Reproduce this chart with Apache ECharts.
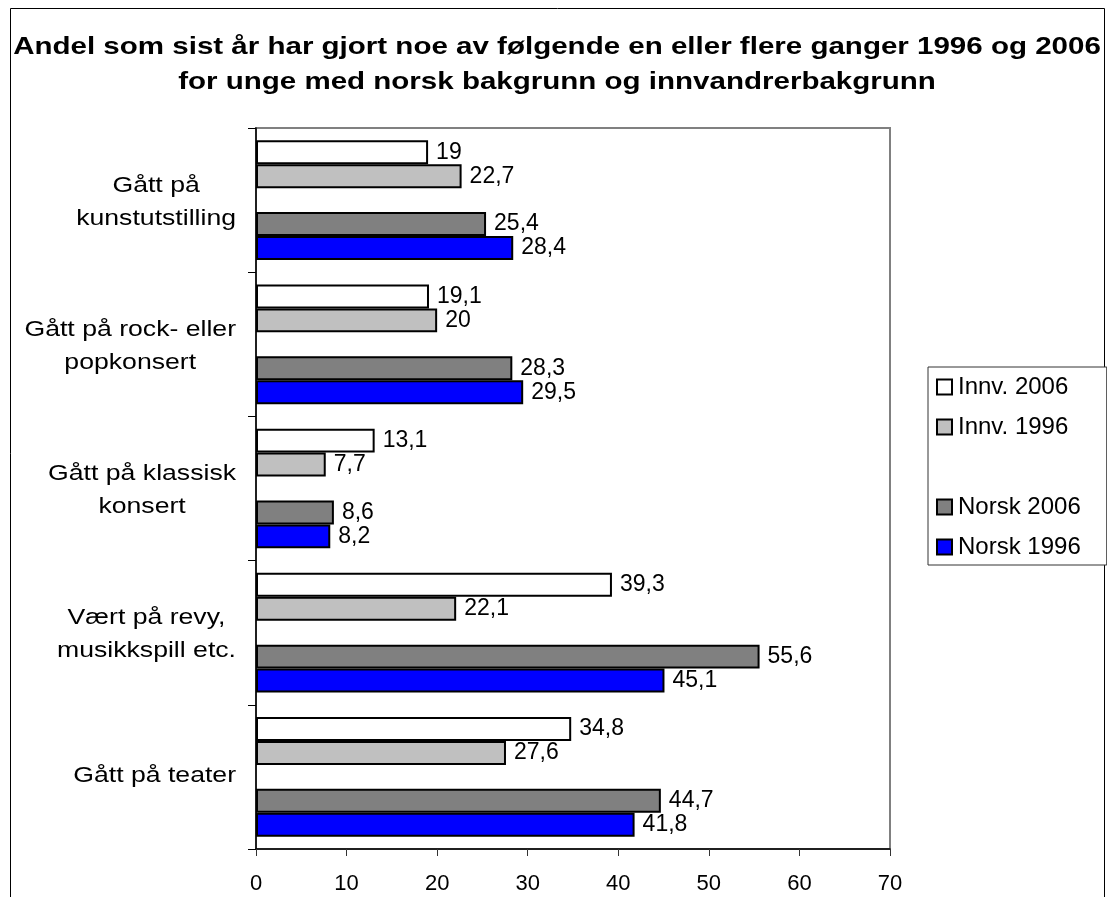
<!DOCTYPE html>
<html>
<head>
<meta charset="utf-8">
<script src="https://cdn.jsdelivr.net/npm/echarts@6/dist/echarts.min.js"></script>
<style>
  html, body { margin: 0; padding: 0; background: #fff; }
  #chart { width: 1107px; height: 897px; }
</style>
</head>
<body>
<div id="chart"></div>
<script>
// Activities (top to bottom)
const categories = [
  'Gått på\nkunstutstilling',
  'Gått på rock- eller\npopkonsert',
  'Gått på klassisk\nkonsert',
  'Vært på revy,\nmusikkspill etc.',
  'Gått på teater'
];

// Share (%) per group and year
const innv2006 = [19, 19.1, 13.1, 39.3, 34.8];
const innv1996 = [22.7, 20, 7.7, 22.1, 27.6];
const norsk2006 = [25.4, 28.3, 8.6, 55.6, 44.7];
const norsk1996 = [28.4, 29.5, 8.2, 45.1, 41.8];

const titleLines = [
  'Andel som sist år har gjort noe av følgende en eller flere ganger 1996 og 2006',
  'for unge med norsk bakgrunn og innvandrerbakgrunn'
];

const xMin = 0, xMax = 70, xStep = 10;

const FONT = "'Liberation Sans', Arial, Helvetica, sans-serif";

const chart = echarts.init(document.getElementById('chart'), null, { renderer: 'canvas' });

const fmt = v => String(v).replace('.', ',');

function barSeries(name, data, color) {
  return {
    name: name,
    type: 'bar',
    data: data,
    barGap: '0%',
    barCategoryGap: '17%',
    itemStyle: { color: color, borderColor: '#000', borderWidth: 2 },
    label: {
      show: true,
      position: 'right',
      distance: 8,
      color: '#000',
      fontFamily: FONT,
      fontSize: 23,
      formatter: p => fmt(p.value)
    },
    emphasis: { disabled: true },
    animation: false
  };
}

// Category names drawn next to the axis, widened like the rest of the lettering
function renderCategoryLabel(params, api) {
  const idx = api.value(1);
  const pt = api.coord([0, idx]);
  const lines = categories[idx].split('\n');
  return {
    type: 'text',
    x: pt[0] - 20,
    y: pt[1] + (lines.length > 1 ? 2 : -1),
    scaleX: 1.21,
    silent: true,
    style: {
      text: lines.map(l => '{c|' + l + '}').join('\n'),
      align: 'right',
      verticalAlign: 'middle',
      fill: '#000',
      font: '22px ' + FONT,
      rich: {
        c: { align: 'center', font: '22px ' + FONT, lineHeight: 33, fill: '#000' }
      }
    }
  };
}

const option = {
  backgroundColor: '#fff',
  animation: false,
  graphic: [
    {
      type: 'rect',
      silent: true,
      shape: { x: 10.5, y: 8.5, width: 1094, height: 900 },
      style: { fill: 'none', stroke: '#000', lineWidth: 1 }
    },
    {
      type: 'text',
      silent: true,
      x: 557,
      y: 64.5,
      scaleX: 1.23,
      style: {
        text: titleLines.join('\n'),
        align: 'center',
        verticalAlign: 'middle',
        lineHeight: 35,
        font: 'bold 24px ' + FONT,
        fill: '#000'
      }
    }
  ],
  legend: {
    orient: 'vertical',
    left: 928,
    top: 367,
    padding: [8, 26, 6, 8],
    backgroundColor: '#fff',
    borderColor: '#333',
    borderWidth: 1,
    itemWidth: 15,
    itemHeight: 15,
    itemGap: 16,
    icon: 'rect',
    selectedMode: false,
    itemStyle: { borderColor: '#000', borderWidth: 2 },
    textStyle: { color: '#000', fontFamily: FONT, fontSize: 24, padding: [0, 0, 0, 1] },
    data: ['Innv. 2006', 'Innv. 1996', { name: ' ', icon: 'none' }, 'Norsk 2006', 'Norsk 1996']
  },
  grid: {
    left: 256,
    top: 128,
    width: 634,
    height: 721,
    show: true,
    borderColor: '#808080',
    borderWidth: 2,
    backgroundColor: '#fff'
  },
  xAxis: {
    type: 'value',
    min: xMin,
    max: xMax,
    interval: xStep,
    axisLine: { show: true, lineStyle: { color: '#000', width: 1.5 } },
    axisTick: { show: true, length: 7, lineStyle: { color: '#333' } },
    splitLine: { show: false },
    axisLabel: { color: '#000', fontFamily: FONT, fontSize: 22, margin: 24 }
  },
  yAxis: {
    type: 'category',
    inverse: true,
    data: categories,
    axisLine: { show: true, lineStyle: { color: '#000', width: 1.5 } },
    axisTick: { show: true, length: 8, lineStyle: { color: '#000' } },
    axisLabel: { show: false },
    splitLine: { show: false }
  },
  series: [
    barSeries('Innv. 2006', innv2006, '#ffffff'),
    barSeries('Innv. 1996', innv1996, '#c0c0c0'),
    {
      name: ' ',
      type: 'bar',
      data: categories.map(() => '-'),
      barGap: '0%',
      barCategoryGap: '17%',
      itemStyle: { color: 'rgba(0,0,0,0)', borderWidth: 0 },
      label: { show: false },
      animation: false
    },
    barSeries('Norsk 2006', norsk2006, '#808080'),
    barSeries('Norsk 1996', norsk1996, '#0000ff'),
    {
      name: 'kategorier',
      type: 'custom',
      silent: true,
      clip: false,
      z: 5,
      data: categories.map((c, i) => [0, i]),
      encode: { x: 0, y: 1 },
      renderItem: renderCategoryLabel,
      animation: false
    }
  ]
};

chart.setOption(option);
</script>
</body>
</html>
